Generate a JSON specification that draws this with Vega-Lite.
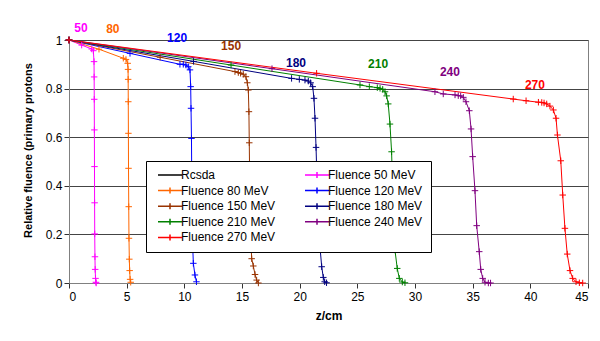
{
  "$schema": "https://vega.github.io/schema/vega-lite/v6.json",
  "width": 519,
  "height": 243,
  "autosize": {"type": "none"},
  "padding": {"left": 69, "top": 40, "right": 12, "bottom": 58},
  "background": "white",
  "config": {
    "font": "Liberation Sans",
    "view": {"stroke": "#808080", "strokeWidth": 1}
  },
  "datasets": {
    "fluence": [
      {"series": "Fluence 50 MeV", "z": 0, "f": 1},
      {"series": "Fluence 50 MeV", "z": 1.1, "f": 0.979},
      {"series": "Fluence 50 MeV", "z": 1.97, "f": 0.963},
      {"series": "Fluence 50 MeV", "z": 2.11, "f": 0.956},
      {"series": "Fluence 50 MeV", "z": 2.17, "f": 0.911},
      {"series": "Fluence 50 MeV", "z": 2.18, "f": 0.848},
      {"series": "Fluence 50 MeV", "z": 2.19, "f": 0.756},
      {"series": "Fluence 50 MeV", "z": 2.2, "f": 0.63},
      {"series": "Fluence 50 MeV", "z": 2.21, "f": 0.479},
      {"series": "Fluence 50 MeV", "z": 2.22, "f": 0.33},
      {"series": "Fluence 50 MeV", "z": 2.23, "f": 0.202},
      {"series": "Fluence 50 MeV", "z": 2.25, "f": 0.108},
      {"series": "Fluence 50 MeV", "z": 2.27, "f": 0.056},
      {"series": "Fluence 50 MeV", "z": 2.3, "f": 0.019},
      {"series": "Fluence 50 MeV", "z": 2.33, "f": 0.003},
      {"series": "Fluence 50 MeV", "z": 2.36, "f": 0},
      {"series": "Fluence 80 MeV", "z": 0, "f": 1},
      {"series": "Fluence 80 MeV", "z": 2.6, "f": 0.962},
      {"series": "Fluence 80 MeV", "z": 4.71, "f": 0.925},
      {"series": "Fluence 80 MeV", "z": 4.94, "f": 0.92},
      {"series": "Fluence 80 MeV", "z": 5.09, "f": 0.904},
      {"series": "Fluence 80 MeV", "z": 5.12, "f": 0.879},
      {"series": "Fluence 80 MeV", "z": 5.13, "f": 0.838},
      {"series": "Fluence 80 MeV", "z": 5.14, "f": 0.746},
      {"series": "Fluence 80 MeV", "z": 5.15, "f": 0.616},
      {"series": "Fluence 80 MeV", "z": 5.16, "f": 0.472},
      {"series": "Fluence 80 MeV", "z": 5.18, "f": 0.314},
      {"series": "Fluence 80 MeV", "z": 5.2, "f": 0.184},
      {"series": "Fluence 80 MeV", "z": 5.23, "f": 0.098},
      {"series": "Fluence 80 MeV", "z": 5.26, "f": 0.051},
      {"series": "Fluence 80 MeV", "z": 5.3, "f": 0.015},
      {"series": "Fluence 80 MeV", "z": 5.35, "f": 0.003},
      {"series": "Fluence 120 MeV", "z": 0, "f": 1},
      {"series": "Fluence 120 MeV", "z": 5.29, "f": 0.945},
      {"series": "Fluence 120 MeV", "z": 9.62, "f": 0.9},
      {"series": "Fluence 120 MeV", "z": 9.91, "f": 0.9},
      {"series": "Fluence 120 MeV", "z": 10.14, "f": 0.897},
      {"series": "Fluence 120 MeV", "z": 10.34, "f": 0.89},
      {"series": "Fluence 120 MeV", "z": 10.49, "f": 0.877},
      {"series": "Fluence 120 MeV", "z": 10.55, "f": 0.808},
      {"series": "Fluence 120 MeV", "z": 10.58, "f": 0.719},
      {"series": "Fluence 120 MeV", "z": 10.62, "f": 0.595},
      {"series": "Fluence 120 MeV", "z": 10.64, "f": 0.46},
      {"series": "Fluence 120 MeV", "z": 10.66, "f": 0.32},
      {"series": "Fluence 120 MeV", "z": 10.7, "f": 0.19},
      {"series": "Fluence 120 MeV", "z": 10.78, "f": 0.081},
      {"series": "Fluence 120 MeV", "z": 10.92, "f": 0.033},
      {"series": "Fluence 120 MeV", "z": 11.05, "f": 0.005},
      {"series": "Fluence 150 MeV", "z": 0, "f": 1},
      {"series": "Fluence 150 MeV", "z": 7.9, "f": 0.929},
      {"series": "Fluence 150 MeV", "z": 14.39, "f": 0.87},
      {"series": "Fluence 150 MeV", "z": 14.68, "f": 0.866},
      {"series": "Fluence 150 MeV", "z": 14.88, "f": 0.863},
      {"series": "Fluence 150 MeV", "z": 15.11, "f": 0.859},
      {"series": "Fluence 150 MeV", "z": 15.34, "f": 0.849},
      {"series": "Fluence 150 MeV", "z": 15.46, "f": 0.824},
      {"series": "Fluence 150 MeV", "z": 15.55, "f": 0.794},
      {"series": "Fluence 150 MeV", "z": 15.6, "f": 0.705},
      {"series": "Fluence 150 MeV", "z": 15.63, "f": 0.577},
      {"series": "Fluence 150 MeV", "z": 15.66, "f": 0.45},
      {"series": "Fluence 150 MeV", "z": 15.7, "f": 0.32},
      {"series": "Fluence 150 MeV", "z": 15.75, "f": 0.19},
      {"series": "Fluence 150 MeV", "z": 15.84, "f": 0.1},
      {"series": "Fluence 150 MeV", "z": 15.98, "f": 0.07},
      {"series": "Fluence 150 MeV", "z": 16.13, "f": 0.035},
      {"series": "Fluence 150 MeV", "z": 16.27, "f": 0.012},
      {"series": "Fluence 150 MeV", "z": 16.42, "f": 0},
      {"series": "Fluence 180 MeV", "z": 0, "f": 1},
      {"series": "Fluence 180 MeV", "z": 10.8, "f": 0.912},
      {"series": "Fluence 180 MeV", "z": 19.3, "f": 0.842},
      {"series": "Fluence 180 MeV", "z": 19.97, "f": 0.838},
      {"series": "Fluence 180 MeV", "z": 20.46, "f": 0.835},
      {"series": "Fluence 180 MeV", "z": 20.75, "f": 0.831},
      {"series": "Fluence 180 MeV", "z": 20.95, "f": 0.824},
      {"series": "Fluence 180 MeV", "z": 21.13, "f": 0.808},
      {"series": "Fluence 180 MeV", "z": 21.24, "f": 0.76},
      {"series": "Fluence 180 MeV", "z": 21.33, "f": 0.678},
      {"series": "Fluence 180 MeV", "z": 21.42, "f": 0.558},
      {"series": "Fluence 180 MeV", "z": 21.5, "f": 0.43},
      {"series": "Fluence 180 MeV", "z": 21.58, "f": 0.3},
      {"series": "Fluence 180 MeV", "z": 21.76, "f": 0.149},
      {"series": "Fluence 180 MeV", "z": 21.91, "f": 0.067},
      {"series": "Fluence 180 MeV", "z": 22.05, "f": 0.023},
      {"series": "Fluence 180 MeV", "z": 22.17, "f": 0.005},
      {"series": "Fluence 180 MeV", "z": 22.33, "f": 0.001},
      {"series": "Fluence 210 MeV", "z": 0, "f": 1},
      {"series": "Fluence 210 MeV", "z": 14.05, "f": 0.897},
      {"series": "Fluence 210 MeV", "z": 25.23, "f": 0.815},
      {"series": "Fluence 210 MeV", "z": 26.04, "f": 0.808},
      {"series": "Fluence 210 MeV", "z": 26.73, "f": 0.804},
      {"series": "Fluence 210 MeV", "z": 26.97, "f": 0.801},
      {"series": "Fluence 210 MeV", "z": 27.2, "f": 0.797},
      {"series": "Fluence 210 MeV", "z": 27.4, "f": 0.787},
      {"series": "Fluence 210 MeV", "z": 27.54, "f": 0.77},
      {"series": "Fluence 210 MeV", "z": 27.68, "f": 0.737},
      {"series": "Fluence 210 MeV", "z": 27.83, "f": 0.654},
      {"series": "Fluence 210 MeV", "z": 27.97, "f": 0.54},
      {"series": "Fluence 210 MeV", "z": 28.05, "f": 0.41},
      {"series": "Fluence 210 MeV", "z": 28.12, "f": 0.28},
      {"series": "Fluence 210 MeV", "z": 28.26, "f": 0.136},
      {"series": "Fluence 210 MeV", "z": 28.46, "f": 0.06},
      {"series": "Fluence 210 MeV", "z": 28.64, "f": 0.019},
      {"series": "Fluence 210 MeV", "z": 28.9, "f": 0.004},
      {"series": "Fluence 210 MeV", "z": 29.13, "f": 0.001},
      {"series": "Fluence 240 MeV", "z": 0, "f": 1},
      {"series": "Fluence 240 MeV", "z": 17.6, "f": 0.882},
      {"series": "Fluence 240 MeV", "z": 31.73, "f": 0.787},
      {"series": "Fluence 240 MeV", "z": 32.45, "f": 0.778},
      {"series": "Fluence 240 MeV", "z": 33.47, "f": 0.774},
      {"series": "Fluence 240 MeV", "z": 33.75, "f": 0.771},
      {"series": "Fluence 240 MeV", "z": 33.96, "f": 0.77},
      {"series": "Fluence 240 MeV", "z": 34.19, "f": 0.764},
      {"series": "Fluence 240 MeV", "z": 34.42, "f": 0.746},
      {"series": "Fluence 240 MeV", "z": 34.71, "f": 0.709},
      {"series": "Fluence 240 MeV", "z": 34.86, "f": 0.634},
      {"series": "Fluence 240 MeV", "z": 35.0, "f": 0.52},
      {"series": "Fluence 240 MeV", "z": 35.2, "f": 0.38},
      {"series": "Fluence 240 MeV", "z": 35.35, "f": 0.236},
      {"series": "Fluence 240 MeV", "z": 35.57, "f": 0.129},
      {"series": "Fluence 240 MeV", "z": 35.7, "f": 0.056},
      {"series": "Fluence 240 MeV", "z": 35.87, "f": 0.019},
      {"series": "Fluence 240 MeV", "z": 36.07, "f": 0.003},
      {"series": "Fluence 240 MeV", "z": 36.36, "f": 0},
      {"series": "Fluence 240 MeV", "z": 36.55, "f": 0},
      {"series": "Fluence 270 MeV", "z": 0, "f": 1},
      {"series": "Fluence 270 MeV", "z": 21.47, "f": 0.863},
      {"series": "Fluence 270 MeV", "z": 38.52, "f": 0.757},
      {"series": "Fluence 270 MeV", "z": 39.63, "f": 0.75},
      {"series": "Fluence 270 MeV", "z": 40.7, "f": 0.744},
      {"series": "Fluence 270 MeV", "z": 40.99, "f": 0.743},
      {"series": "Fluence 270 MeV", "z": 41.19, "f": 0.741},
      {"series": "Fluence 270 MeV", "z": 41.42, "f": 0.737},
      {"series": "Fluence 270 MeV", "z": 41.7, "f": 0.728},
      {"series": "Fluence 270 MeV", "z": 42.0, "f": 0.712},
      {"series": "Fluence 270 MeV", "z": 42.23, "f": 0.678},
      {"series": "Fluence 270 MeV", "z": 42.35, "f": 0.609},
      {"series": "Fluence 270 MeV", "z": 42.64, "f": 0.503},
      {"series": "Fluence 270 MeV", "z": 42.81, "f": 0.362},
      {"series": "Fluence 270 MeV", "z": 43.0, "f": 0.225},
      {"series": "Fluence 270 MeV", "z": 43.2, "f": 0.119},
      {"series": "Fluence 270 MeV", "z": 43.44, "f": 0.051},
      {"series": "Fluence 270 MeV", "z": 43.67, "f": 0.019},
      {"series": "Fluence 270 MeV", "z": 43.96, "f": 0.005},
      {"series": "Fluence 270 MeV", "z": 44.25, "f": 0.001},
      {"series": "Fluence 270 MeV", "z": 44.54, "f": 0}
    ],
    "rcsda": [
      {"series": "Rcsda", "z": 2.22},
      {"series": "Rcsda", "z": 5.16},
      {"series": "Rcsda", "z": 10.6},
      {"series": "Rcsda", "z": 15.75},
      {"series": "Rcsda", "z": 21.55},
      {"series": "Rcsda", "z": 28.1},
      {"series": "Rcsda", "z": 35.18},
      {"series": "Rcsda", "z": 42.77}
    ],
    "labels": [
      {"series": "Fluence 50 MeV", "label": "50", "z": 1.04, "f": 1.049},
      {"series": "Fluence 80 MeV", "label": "80", "z": 3.8, "f": 1.045},
      {"series": "Fluence 120 MeV", "label": "120", "z": 9.37, "f": 1.008},
      {"series": "Fluence 150 MeV", "label": "150", "z": 14.05, "f": 0.975},
      {"series": "Fluence 180 MeV", "label": "180", "z": 19.68, "f": 0.904},
      {"series": "Fluence 210 MeV", "label": "210", "z": 26.8, "f": 0.901},
      {"series": "Fluence 240 MeV", "label": "240", "z": 33.03, "f": 0.87},
      {"series": "Fluence 270 MeV", "label": "270", "z": 40.4, "f": 0.815}
    ]
  },
  "layer": [
    {
      "data": {"name": "rcsda"},
      "mark": {"type": "rule", "strokeWidth": 1},
      "encoding": {
        "x": {"field": "z", "type": "quantitative"},
        "y": {"datum": 0, "type": "quantitative"},
        "y2": {"datum": 1},
        "color": {"field": "series", "type": "nominal"}
      }
    },
    {
      "data": {"name": "fluence"},
      "mark": {"type": "line", "strokeWidth": 1},
      "encoding": {
        "x": {"field": "z", "type": "quantitative"},
        "y": {"field": "f", "type": "quantitative"},
        "color": {"field": "series", "type": "nominal"}
      }
    },
    {
      "data": {"name": "fluence"},
      "mark": {"type": "point", "shape": "M-1,0H1M0,-1V1", "filled": false, "size": 42, "strokeWidth": 1, "opacity": 1},
      "encoding": {
        "x": {"field": "z", "type": "quantitative"},
        "y": {"field": "f", "type": "quantitative"},
        "color": {"field": "series", "type": "nominal"}
      }
    },
    {
      "data": {"name": "labels"},
      "mark": {"type": "text", "fontWeight": "bold", "fontSize": 12, "align": "center", "baseline": "middle"},
      "encoding": {
        "x": {"field": "z", "type": "quantitative"},
        "y": {"field": "f", "type": "quantitative"},
        "text": {"field": "label"},
        "color": {"field": "series", "type": "nominal"}
      }
    }
  ],
  "resolve": {"scale": {"color": "shared"}},
  "encoding": {
    "x": {
      "field": "z",
      "type": "quantitative",
      "scale": {"domain": [0, 45], "nice": false, "zero": false},
      "axis": {
        "title": "z/cm",
        "values": [0, 5, 10, 15, 20, 25, 30, 35, 40, 45],
        "grid": false,
        "domainColor": "#808080",
        "tickColor": "#333333",
        "tickSize": 5,
        "labelFontSize": 12,
        "labelColor": "#000000",
        "labelPadding": 3,
        "titleFontSize": 12,
        "titleFontWeight": "bold",
        "titleColor": "#000000",
        "titlePadding": 8
      }
    },
    "y": {
      "field": "f",
      "type": "quantitative",
      "scale": {"domain": [0, 1], "nice": false, "zero": false},
      "axis": {
        "title": "Relative fluence (primary protons",
        "values": [0, 0.2, 0.4, 0.6, 0.8, 1],
        "format": "~g",
        "grid": true,
        "gridColor": "#444444",
        "gridOpacity": 1,
        "gridWidth": 1,
        "domainColor": "#808080",
        "tickColor": "#333333",
        "tickSize": 5,
        "labelFontSize": 12,
        "labelColor": "#000000",
        "labelPadding": 2,
        "titleFontSize": 11,
        "titleFontWeight": "bold",
        "titleColor": "#000000",
        "titleAngle": -90,
        "titleX": -41,
        "titleY": 110,
        "titleAlign": "center",
        "titleBaseline": "middle"
      }
    },
    "color": {
      "field": "series",
      "type": "nominal",
      "scale": {
        "domain": ["Rcsda", "Fluence 80 MeV", "Fluence 150 MeV", "Fluence 210 MeV", "Fluence 270 MeV", "Fluence 50 MeV", "Fluence 120 MeV", "Fluence 180 MeV", "Fluence 240 MeV"],
        "range": ["#000000", "#FF6600", "#993300", "#008000", "#FF0000", "#FF00FF", "#0000FF", "#000080", "#800080"]
      },
      "legend": {
        "title": null,
        "orient": "none",
        "legendX": 77,
        "legendY": 121,
        "columns": 2,
        "columnPadding": 25,
        "rowPadding": 3.6,
        "padding": 8,
        "strokeColor": "#000000",
        "fillColor": "#FFFFFF",
        "symbolSize": 100,
        "symbolOffset": 10,
        "labelOffset": 5,
        "labelFontSize": 12,
        "labelColor": "#000000",
        "labelLimit": 200,
        "symbolStrokeWidth": 1.5,
        "symbolFillColor": "transparent",
        "encode": {
          "symbols": {
            "update": {
              "shape": {"signal": "datum.value === 'Rcsda' ? 'M-2.4,0H2.4' : 'M-2.4,0H2.4M0,-0.6V0.6'"},
              "strokeWidth": {"value": 1.5},
              "fill": {"value": "transparent"}
            }
          }
        }
      }
    }
  }
}
